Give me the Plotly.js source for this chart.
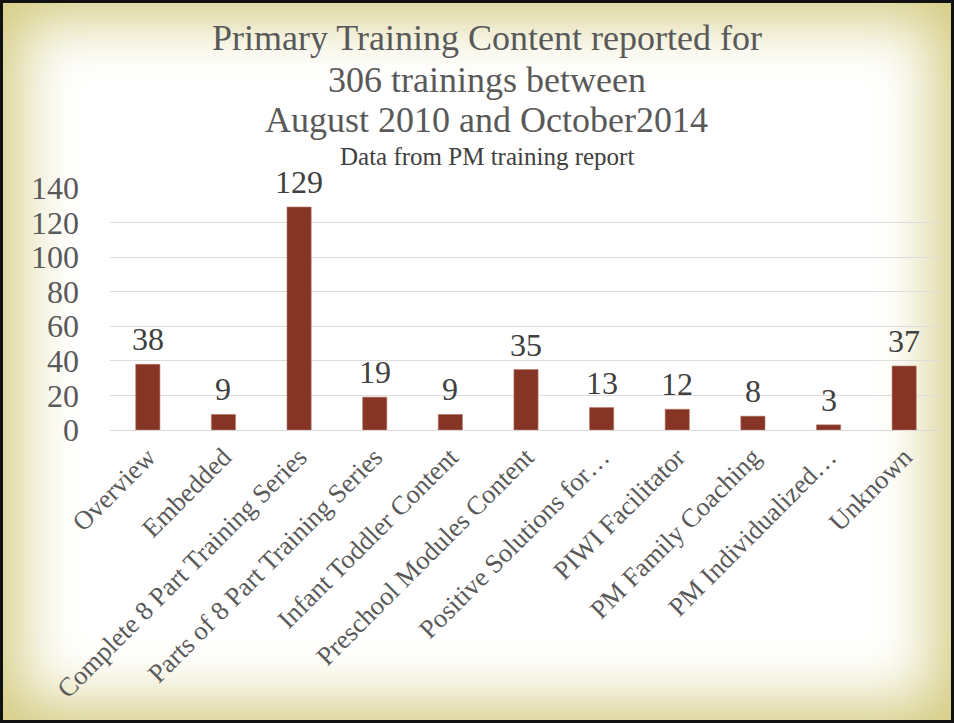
<!DOCTYPE html>
<html>
<head>
<meta charset="utf-8">
<script src="https://cdn.plot.ly/plotly-3.0.1.min.js"></script>
<style>
  html, body { margin: 0; padding: 0; background: #ffffff; }
  #wrap { position: relative; width: 954px; height: 723px; background: #ffffff;
          box-shadow: inset 0 0 60px 20px #d4cb80; }
  #chart { position: absolute; left: 0; top: 0; width: 954px; height: 723px; }
  #frame { position: absolute; left: 0; top: 0; width: 954px; height: 723px; box-sizing: border-box;
           border: 3px solid #111111; pointer-events: none; }
</style>
</head>
<body>
<div id="wrap"><div id="chart"></div><div id="frame"></div></div>
<script>
const categories = [
  "Overview", "Embedded", "Complete 8 Part Training Series", "Parts of 8 Part Training Series",
  "Infant Toddler Content", "Preschool Modules Content", "Positive Solutions for…",
  "PIWI Facilitator", "PM Family Coaching", "PM Individualized…", "Unknown"
];
const trainings = [38, 9, 129, 19, 9, 35, 13, 12, 8, 3, 37];
const yTicks = [0, 20, 40, 60, 80, 100, 120, 140];
const titleLines = [
  "Primary Training Content reported for",
  "306 trainings between",
  "August 2010 and October2014"
];
const subtitle = "Data from PM training report";

const FONT = "'Liberation Serif', 'DejaVu Serif', serif";

// plot-area geometry (pixels) used to place title lines
const L = 110, R = 12, T = 188, B = 293, W = 954, H = 723;
const plotW = W - L - R, plotH = H - T - B;
const px = x => (x - L) / plotW;
const py = y => (H - B - y) / plotH;

const trace = {
  type: "bar",
  x: categories,
  y: trainings,
  marker: { color: "#863524", line: { color: "#b77a6e", width: 0.6 } },
  width: 0.32,
  hoverinfo: "x+y"
};

const titleY = [38, 80, 120];
const annotations = titleLines.map((t, i) => ({
  text: t, xref: "paper", yref: "paper",
  x: px(486.5), y: py(titleY[i]), xanchor: "center", yanchor: "middle",
  showarrow: false,
  font: { family: FONT, size: 36, color: "#595959" }
}));
annotations.push({
  text: subtitle, xref: "paper", yref: "paper",
  x: px(486.5), y: py(156), xanchor: "center", yanchor: "middle",
  showarrow: false,
  font: { family: FONT, size: 25, color: "#404040" }
});
// data labels above bars, positioned through the axes
categories.forEach((c, i) => {
  annotations.push({
    text: String(trainings[i]), xref: "x", yref: "y",
    x: c, y: trainings[i], xanchor: "center", yanchor: "bottom",
    yshift: 5, showarrow: false,
    font: { family: FONT, size: 32, color: "#404040" }
  });
});

const layout = {
  width: W, height: H,
  paper_bgcolor: "rgba(0,0,0,0)",
  plot_bgcolor: "rgba(0,0,0,0)",
  margin: { l: L, r: R, t: T, b: B },
  showlegend: false,
  font: { family: FONT, color: "#595959" },
  annotations: annotations,
  xaxis: {
    type: "category",
    tickangle: -45,
    tickfont: { family: FONT, size: 26.5, color: "#595959" },
    showgrid: false,
    showline: true, linecolor: "#d9d9d9", linewidth: 1,
    ticks: "", automargin: false
  },
  yaxis: {
    range: [0, 140],
    tickvals: yTicks,
    ticktext: yTicks.map(String),
    tickfont: { family: FONT, size: 32, color: "#595959" },
    gridcolor: "#dcdcdc", gridwidth: 1,
    zeroline: false, showline: false,
    ticks: "", ticklabelstandoff: 30,
    automargin: false
  }
};

Plotly.newPlot("chart", [trace], layout, { displayModeBar: false });
</script>
</body>
</html>
